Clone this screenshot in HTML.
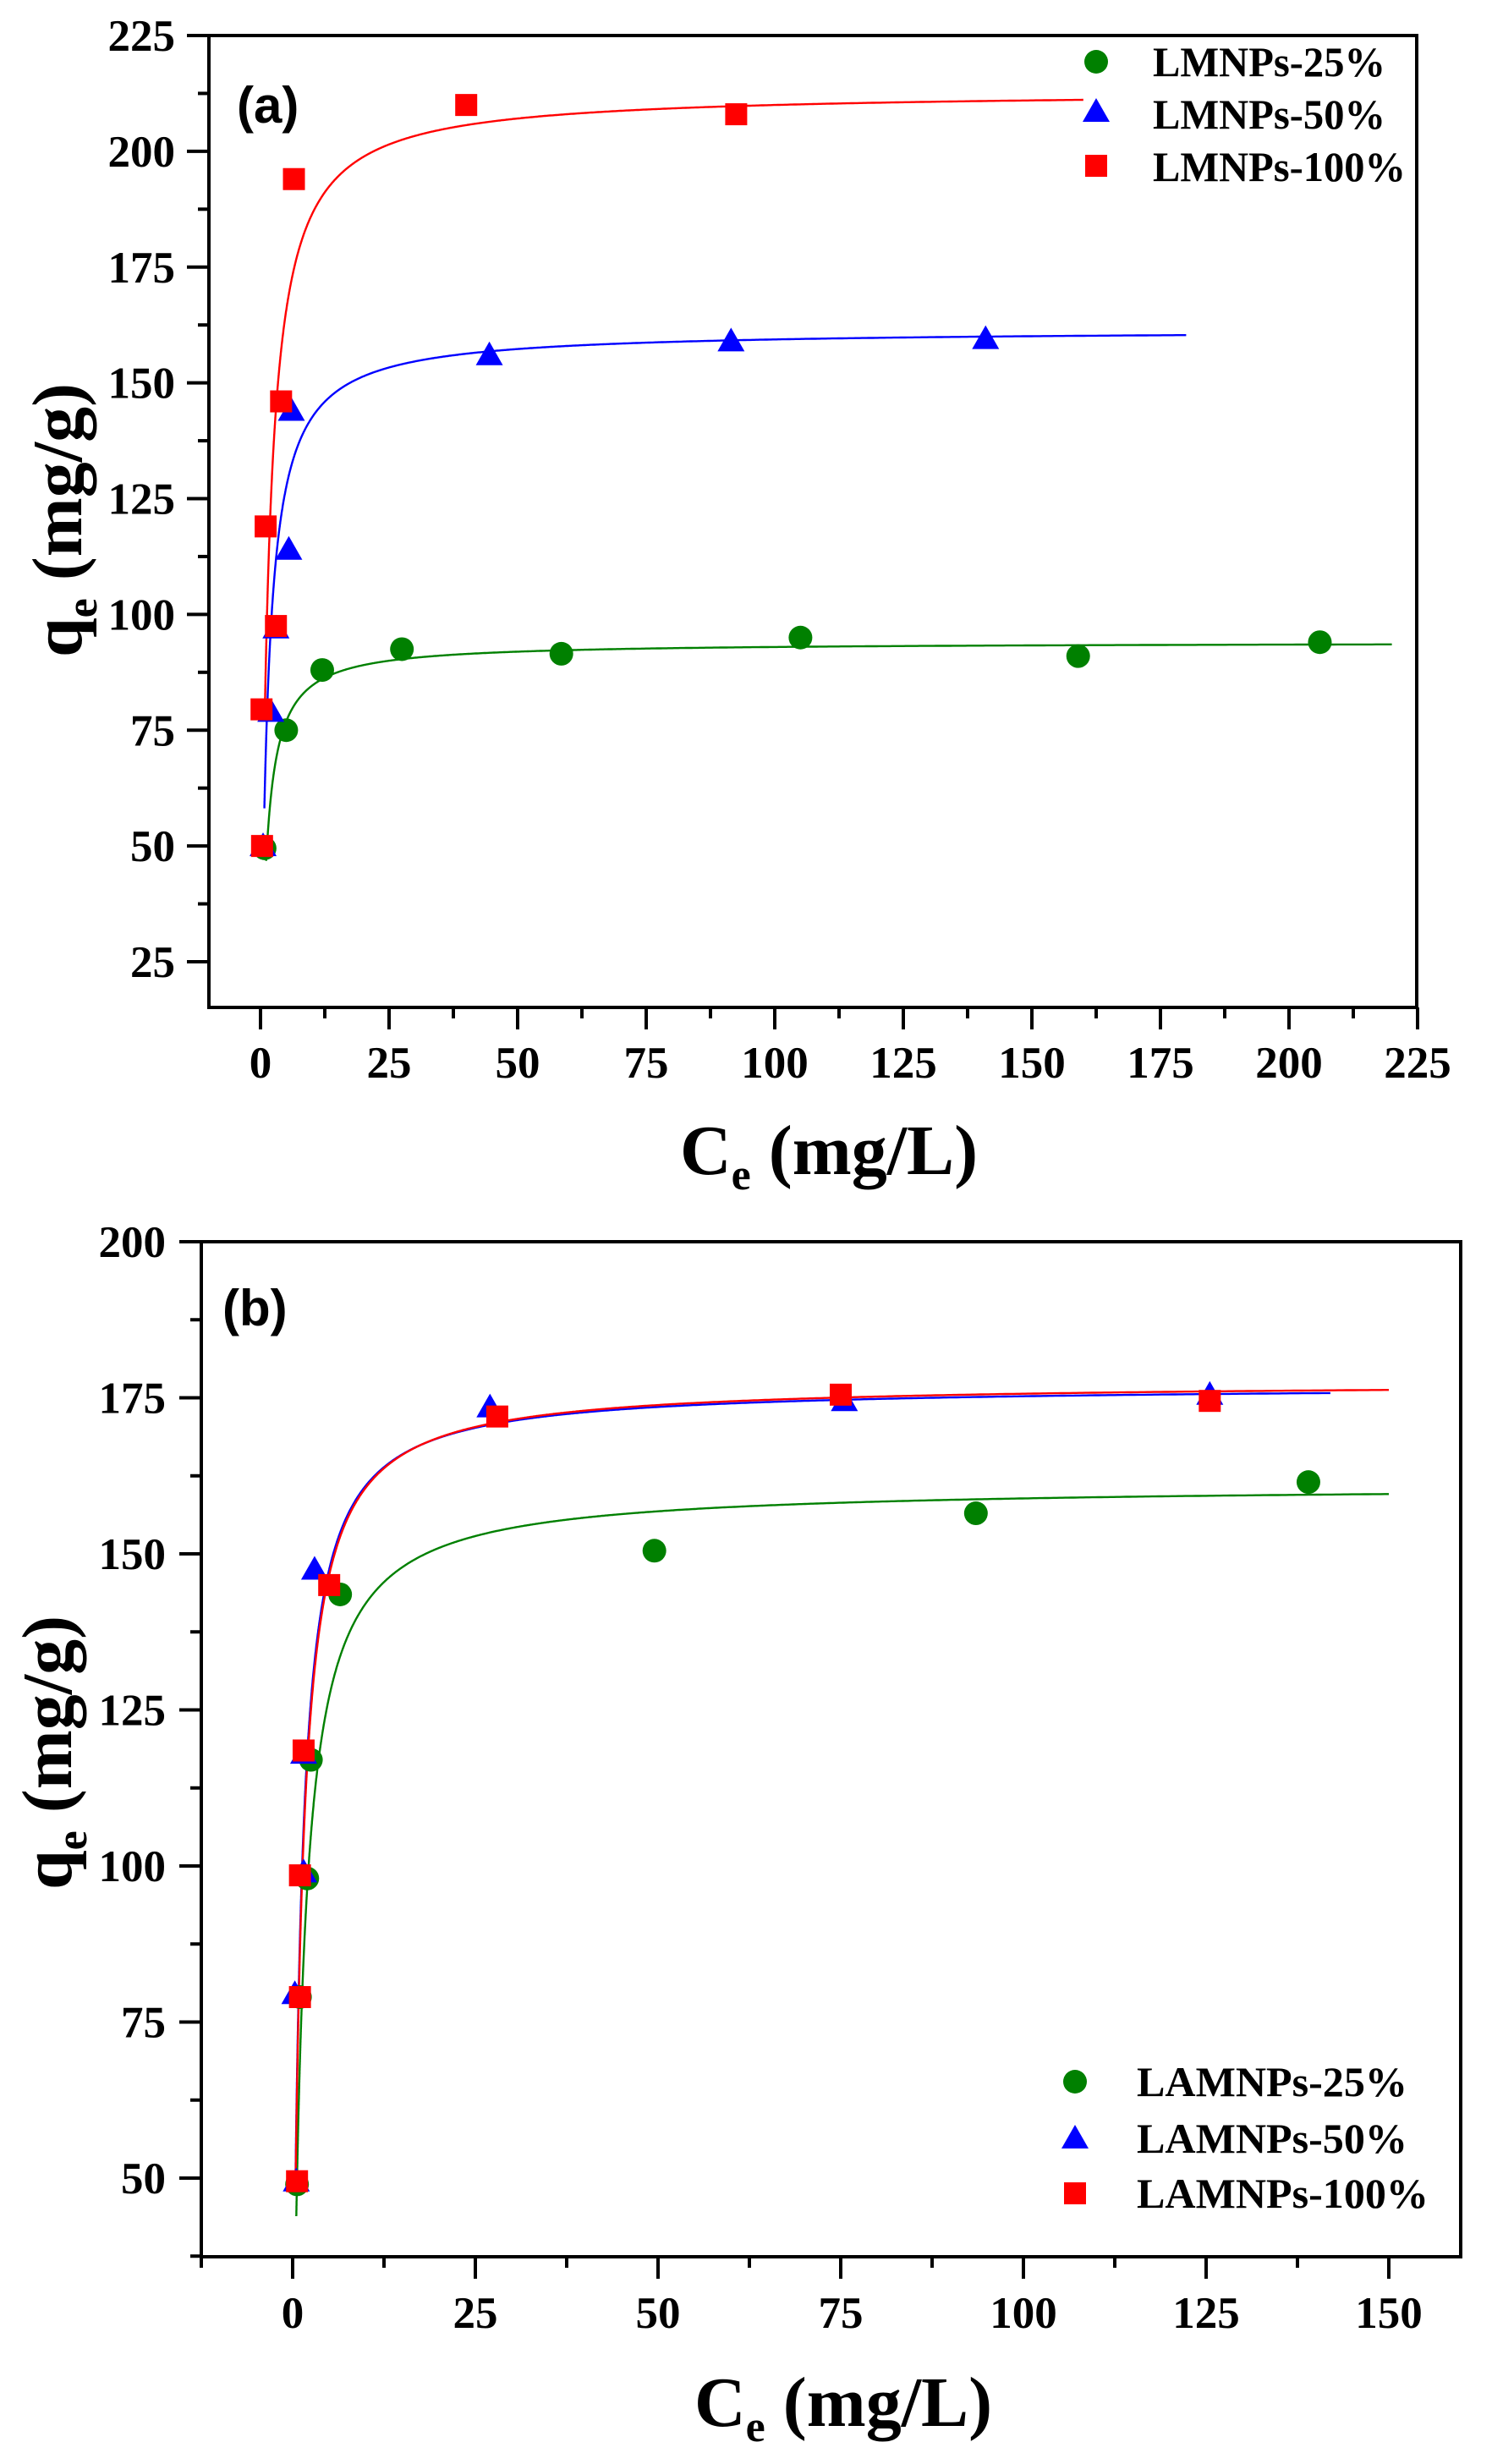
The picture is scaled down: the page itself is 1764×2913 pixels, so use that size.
<!DOCTYPE html>
<html><head><meta charset="utf-8"><style>
html,body{margin:0;padding:0;background:#fff;}
svg{display:block;}
text{font-family:"Liberation Serif","Times New Roman",serif;font-weight:bold;fill:#000;}
</style></head><body>
<svg id="s" width="1764" height="2913" viewBox="0 0 1764 2913" xmlns="http://www.w3.org/2000/svg">
<rect width="1764" height="2913" fill="#fff"/>
<text x="280" y="145" style="font-family:'Liberation Sans',sans-serif;font-size:60px">(a)</text>
<text x="263" y="1567" style="font-family:'Liberation Sans',sans-serif;font-size:60px">(b)</text>
<text x="804" y="1388" style="font-size:84px">C<tspan font-size="52" dy="18">e</tspan><tspan dy="-18"> (mg/L)</tspan></text>
<text x="821" y="2868" style="font-size:84px">C<tspan font-size="52" dy="18">e</tspan><tspan dy="-18"> (mg/L)</tspan></text>
<text transform="translate(96,615) rotate(-90)" text-anchor="middle" style="font-size:84px">q<tspan font-size="52" dy="18">e</tspan><tspan dy="-18"> (mg/g)</tspan></text>
<text transform="translate(84,2072) rotate(-90)" text-anchor="middle" style="font-size:84px">q<tspan font-size="52" dy="18">e</tspan><tspan dy="-18"> (mg/g)</tspan></text>
<g style="font-size:50px">
<text x="1363" y="90" textLength="275" lengthAdjust="spacingAndGlyphs">LMNPs-25%</text>
<text x="1363" y="152" textLength="275" lengthAdjust="spacingAndGlyphs">LMNPs-50%</text>
<text x="1363" y="214" textLength="299" lengthAdjust="spacingAndGlyphs">LMNPs-100%</text>
<text x="1344" y="2478" textLength="320" lengthAdjust="spacingAndGlyphs">LAMNPs-25%</text>
<text x="1344" y="2545" textLength="320" lengthAdjust="spacingAndGlyphs">LAMNPs-50%</text>
<text x="1344" y="2610" textLength="345" lengthAdjust="spacingAndGlyphs">LAMNPs-100%</text>
</g>
<g id="dyn"></g>
</svg>
<script>
var NS="http://www.w3.org/2000/svg",g=document.getElementById("dyn");
function el(t,a,txt){var e=document.createElementNS(NS,t);for(var k in a)e.setAttribute(k,a[k]);if(txt!=null)e.textContent=txt;g.appendChild(e);return e;}
function marker(type,cx,cy,col){
 if(type=="c")el("circle",{cx:cx,cy:cy,r:14,fill:col});
 else if(type=="t")el("polygon",{points:(cx-16)+","+(cy+12)+" "+(cx+16)+","+(cy+12)+" "+cx+","+(cy-16),fill:col});
 else el("rect",{x:cx-13,y:cy-13,width:26,height:26,fill:col});
}
function panel(P){
 var X=function(v){return P.x0+(v)*P.sx;},Y=function(v){return P.y0-(v-P.yv0)*P.sy;};
 P.curves.forEach(function(c){
  var d="",first=true;
  for(var i=0;i<=1500;i++){var x=c.xs*Math.pow(c.xe/c.xs,i/1500);var q=c.qm*c.K*x/(1+c.K*x);
   d+=(first?"M":"L")+X(x).toFixed(1)+","+Y(q).toFixed(1);first=false;}
  el("path",{d:d,fill:"none",stroke:c.col,"stroke-width":2.4});
 });
 P.pts.forEach(function(s){s.d.forEach(function(p){marker(s.t,X(p[0]),Y(p[1]),s.col);});});
 el("rect",{x:P.L,y:P.T,width:P.R-P.L,height:P.B-P.T,fill:"none",stroke:"#000","stroke-width":4});
 for(var v=P.ymin;v<=P.ymax+0.01;v+=P.ystep/2){var y=Y(v),maj=Math.abs((v/P.ystep)-Math.round(v/P.ystep))<0.01;
  if(y<P.T-1||y>P.B)continue;
  el("line",{x1:P.L-(maj?26:13),y1:y,x2:P.L,y2:y,stroke:"#000","stroke-width":4});
  if(maj)el("text",{x:P.ylx,y:y+18,"text-anchor":"end",style:"font-size:53px"},String(v));}
 for(var v=P.xmin;v<=P.xmax+0.01;v+=P.xstep/2){var x=X(v),maj=Math.abs((v/P.xstep)-Math.round(v/P.xstep))<0.01;
  if(x<P.L-1||x>P.R+1)continue;
  el("line",{x1:x,y1:P.B,x2:x,y2:P.B+(maj?26:13),stroke:"#000","stroke-width":4});
  if(maj)el("text",{x:x,y:P.xly,"text-anchor":"middle",style:"font-size:53px"},String(v));}
 P.leg.forEach(function(l){marker(l[0],l[1],l[2],l[3]);});
}
var G="#008000",B="#0000ff",R="#ff0000";
panel({x0:308,sx:6.08,y0:1137,yv0:25,sy:5.475,L:247,R:1675,T:42,B:1191,
 ymin:25,ymax:225,ystep:25,xmin:-12.5,xmax:225,xstep:25,ylx:207,xly:1274,
 curves:[{qm:213,K:0.7,xs:0.85,xe:160,col:R},{qm:161.5,K:0.75,xs:0.75,xe:180,col:B},{qm:94,K:0.9,xs:1.1,xe:220,col:G}],
 pts:[{t:"c",col:G,d:[[0.8,49.5],[5,75],[12,88],[27.5,92.5],[58.5,91.5],[105,95],[159,91],[206,94]]},
      {t:"t",col:B,d:[[0.5,50],[2,79],[3,97],[5.5,114],[6,144],[44.5,156],[91.5,159],[141,159.5]]},
      {t:"s",col:R,d:[[0.3,50],[0.2,79.5],[1,119],[3,97.5],[4,146],[6.5,194],[40,210],[92.5,208]]}],
 leg:[["c",1296,73,G],["t",1296,132,B],["s",1296,196,R]]});
panel({x0:346,sx:8.64,y0:2575,yv0:50,sy:7.38,L:238,R:1727,T:1468,B:2668,
 ymin:37.5,ymax:200,ystep:25,xmin:-12.5,xmax:150,xstep:25,ylx:196,xly:2752,
 curves:[{qm:161,K:0.75,xs:0.5,xe:150,col:G},{qm:177,K:1.0,xs:0.38,xe:142,col:B},{qm:177.5,K:0.95,xs:0.4,xe:150,col:R}],
 pts:[{t:"c",col:G,d:[[0.6,49],[1,79],[2,98],[2.5,117],[6.5,143.5],[49.5,150.5],[93.5,156.5],[139,161.5]]},
      {t:"t",col:B,d:[[0.5,49.5],[0.3,79.5],[1.5,99],[1.5,118],[3,147.5],[27,173.5],[75.5,174.5],[125.5,175.5]]},
      {t:"s",col:R,d:[[0.6,49.5],[1,79],[1,98.5],[1.5,118.5],[5,145],[28,172],[75,175.5],[125.5,174.5]]}],
 leg:[["c",1271,2461,G],["t",1271,2528,B],["s",1271,2593,R]]});
</script>
</body></html>
